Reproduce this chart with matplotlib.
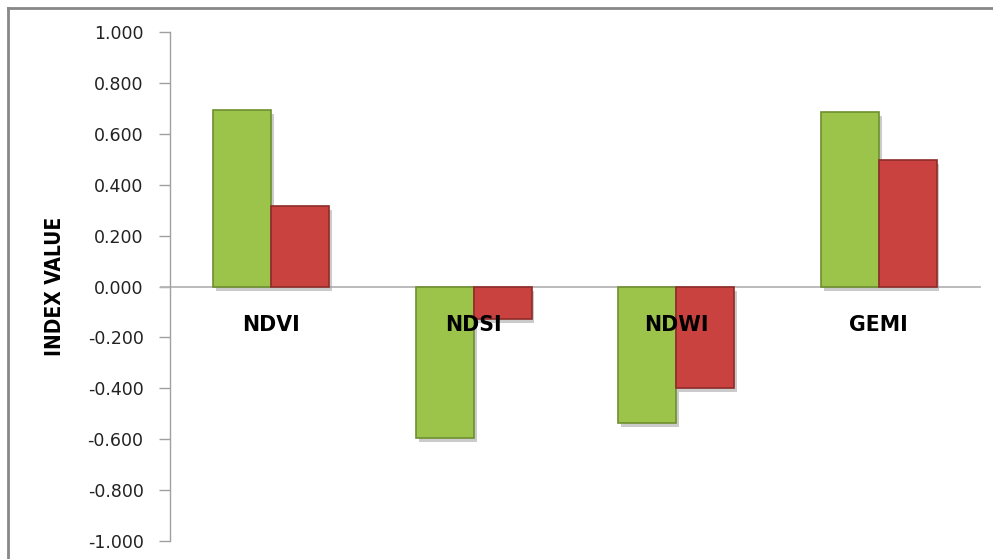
#!/usr/bin/env python3

import matplotlib
matplotlib.use('Agg')
import matplotlib.pyplot as plt
import matplotlib.patheffects as pe
from matplotlib.lines import Line2D
import numpy as np

# Index values
categories = ['NDVI', 'NDSI', 'NDWI', 'GEMI']
series_green = [0.693, -0.596, -0.536, 0.686]
series_red = [0.316, -0.128, -0.399, 0.497]
y_ticks = [-1.0, -0.8, -0.6, -0.4, -0.2, 0.0, 0.2, 0.4, 0.6, 0.8, 1.0]

green_face = '#9CC44B'
green_edge = '#6E8F30'
red_face = '#C9423F'
red_edge = '#8E2C29'

fig = plt.figure(figsize=(9.93, 5.59), dpi=100)
ax = fig.add_axes([170/993, 1 - 541/559, 810/993, 509/559])

x = np.arange(len(categories))
bar_w = 0.286
shadow = [pe.SimplePatchShadow(offset=(2, -3), shadow_rgbFace='#999999', alpha=0.5), pe.Normal()]

ax.bar(x - bar_w/2, series_green, width=bar_w, color=green_face,
       edgecolor=green_edge, linewidth=1.2, zorder=3, path_effects=shadow)
ax.bar(x + bar_w/2, series_red, width=bar_w, color=red_face,
       edgecolor=red_edge, linewidth=1.2, zorder=3, path_effects=shadow)

ax.set_xlim(-0.5, len(categories) - 0.5)
ax.set_ylim(-1.0, 1.0)
ax.set_yticks(y_ticks)
ax.set_yticklabels(['{0:.3f}'.format(v) for v in y_ticks], fontsize=12.5, color='#222222')
ax.tick_params(axis='y', length=8, width=1, color='#A0A0A0', pad=11)
ax.set_xticks([])

for side in ['top', 'right', 'bottom']:
    ax.spines[side].set_visible(False)
ax.spines['left'].set_color('#A0A0A0')
ax.spines['left'].set_linewidth(1)

# zero line acting as category axis
ax.axhline(0, xmin=-9/810, xmax=1, color='#B5B5B5', linewidth=1.3, clip_on=False, zorder=2)

for i, name in enumerate(categories):
    ax.text(i, -0.15, name, ha='center', va='center', fontsize=14.8,
            fontweight='bold', color='black', zorder=5)

fig.text(55/993, 1 - 286/559, 'INDEX VALUE', rotation=90, ha='center', va='center',
         fontsize=15, fontweight='bold', fontstretch='condensed', family='DejaVu Sans')

# outer chart border (top and left visible)
fig.add_artist(Line2D([8/993, 1], [1 - 8/559, 1 - 8/559], transform=fig.transFigure,
                      color='#888888', linewidth=2))
fig.add_artist(Line2D([8/993, 8/993], [0, 1 - 8/559], transform=fig.transFigure,
                      color='#888888', linewidth=2))

plt.savefig('out.png', dpi=100)
plt.close('all')
